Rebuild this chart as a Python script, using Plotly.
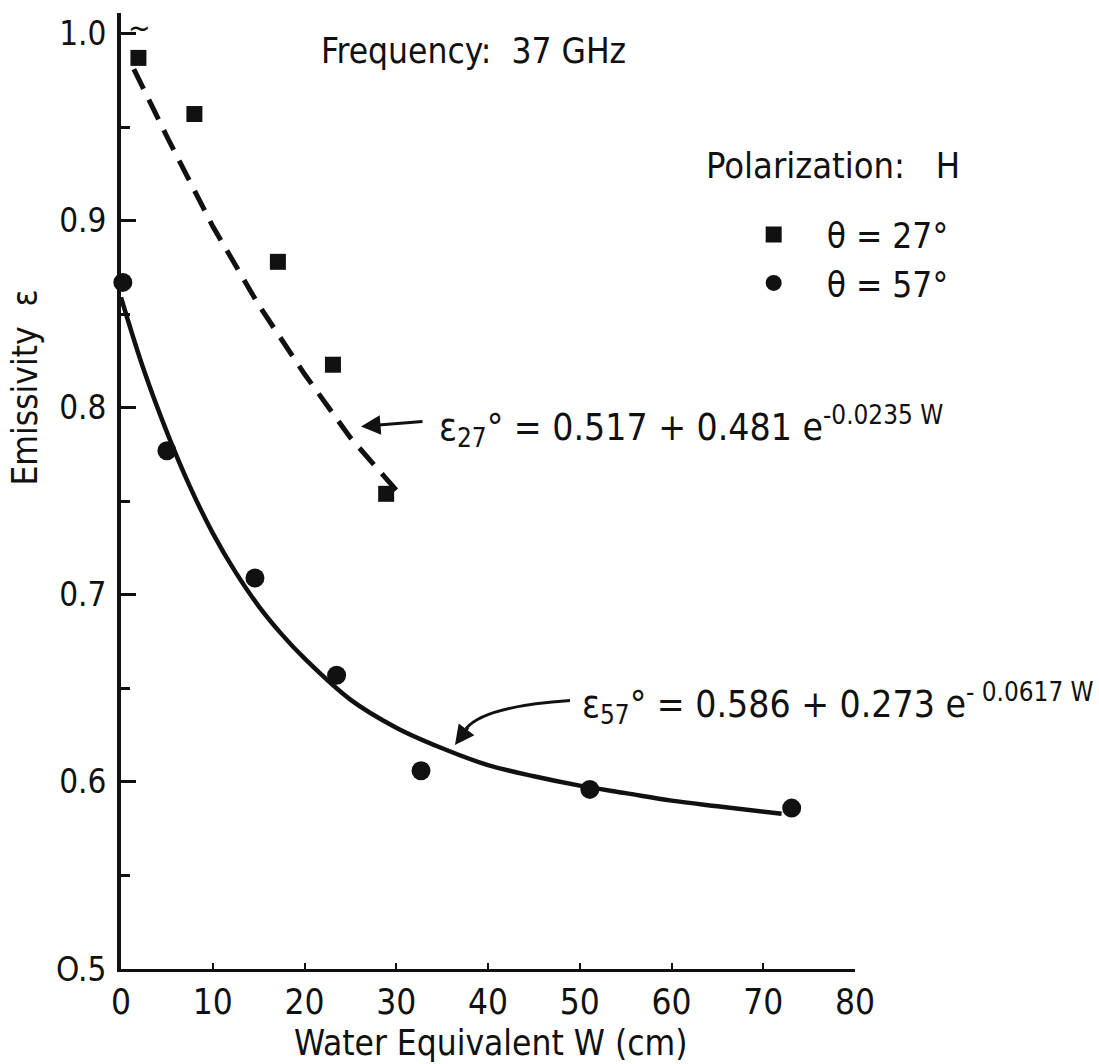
import plotly.graph_objects as go

# ---------------- data ----------------
w_27 = [1.9, 8.0, 17.1, 23.1, 28.9]
e_27 = [0.987, 0.957, 0.878, 0.823, 0.754]

w_57 = [0.2, 5.0, 14.6, 23.5, 32.7, 51.1, 73.1]
e_57 = [0.867, 0.777, 0.709, 0.657, 0.606, 0.596, 0.586]

# fitted curves
fit27_w = [1.4, 5, 10, 15, 20, 25, 30]
fit27_e = [0.981, 0.945, 0.897, 0.855, 0.818, 0.784, 0.756]

fit57_w = [0, 2.5, 5, 7.5, 10, 12.5, 15, 17.5, 20, 25, 30, 35, 40, 45, 50, 55, 60, 65, 72]
fit57_e = [0.859, 0.820, 0.787, 0.758, 0.733, 0.712, 0.694, 0.679, 0.666, 0.644,
           0.629, 0.618, 0.609, 0.603, 0.598, 0.594, 0.590, 0.587, 0.583]

x_ticks = [0, 10, 20, 30, 40, 50, 60, 70, 80]
y_ticks = [0.5, 0.6, 0.7, 0.8, 0.9, 1.0]
y_ticktext = ["O.5", "0.6", "0.7", "0.8", "0.9", "1.0"]

FONT = "DejaVu Sans Condensed, Liberation Sans Narrow, Roboto Condensed, DejaVu Sans, sans-serif"
INK = "#111111"

fig = go.Figure()

fig.add_trace(go.Scatter(x=fit27_w, y=fit27_e, mode="lines", showlegend=False,
                         line=dict(color=INK, width=5, dash="22px,12px"), hoverinfo="skip"))
fig.add_trace(go.Scatter(x=fit57_w, y=fit57_e, mode="lines", showlegend=False,
                         line=dict(color=INK, width=4.5, shape="spline"), hoverinfo="skip"))
fig.add_trace(go.Scatter(x=w_27, y=e_27, mode="markers", name="θ = 27°", cliponaxis=False,
                         marker=dict(symbol="square", size=16, color=INK)))
fig.add_trace(go.Scatter(x=w_57, y=e_57, mode="markers", name="θ = 57°", cliponaxis=False,
                         marker=dict(symbol="circle", size=19, color=INK)))

fig.update_layout(
    width=1099, height=1064,
    margin=dict(l=121, r=244, t=13, b=95),
    paper_bgcolor="white", plot_bgcolor="white",
    font=dict(family=FONT, size=32, color=INK),
    showlegend=True,
    legend=dict(x=0.817, y=0.799, xanchor="left", yanchor="top",
                font=dict(family=FONT, size=35, color=INK),
                bgcolor="rgba(0,0,0,0)", itemwidth=96, tracegroupgap=0),
)

fig.update_xaxes(range=[0, 80], tickvals=x_ticks, showgrid=False, zeroline=False,
                 showline=True, linecolor=INK, linewidth=3,
                 ticks="inside", ticklen=6, tickwidth=2, tickcolor=INK,
                 tickfont=dict(family=FONT, size=35, color=INK))
fig.update_yaxes(range=[0.5, 1.011], tickvals=y_ticks, ticktext=y_ticktext,
                 showgrid=False, zeroline=False,
                 showline=True, linecolor=INK, linewidth=4,
                 ticks="inside", ticklen=15, tickwidth=3, tickcolor=INK,
                 minor=dict(dtick=0.05, ticks="inside", ticklen=9, tickwidth=3, tickcolor=INK),
                 ticklabelstandoff=4,
                 tickfont=dict(family=FONT, size=33, color=INK))

ann = []
ann.append(dict(text="Water Equivalent W (cm)", xref="paper", yref="paper", x=0.504, y=-0.077,
                xanchor="center", yanchor="middle", showarrow=False, font=dict(size=35)))
ann.append(dict(text="Emissivity  ε", xref="paper", yref="paper", x=-0.131, y=0.608,
                xanchor="center", yanchor="middle", textangle=-90, showarrow=False, font=dict(size=35)))
ann.append(dict(text="Frequency:  37 GHz", xref="paper", yref="paper", x=0.270, y=0.960,
                xanchor="left", yanchor="middle", showarrow=False, font=dict(size=35)))
ann.append(dict(text="Polarization:   H", xref="paper", yref="paper", x=0.794, y=0.840,
                xanchor="left", yanchor="middle", showarrow=False, font=dict(size=36)))
ann.append(dict(text="~", xref="x", yref="paper", x=0.5, y=0.985, xanchor="left", yanchor="middle",
                showarrow=False, font=dict(size=30)))
# equations
ann.append(dict(text="ε<sub>27</sub>° = 0.517 + 0.481 e<sup>-0.0235 W</sup>", xref="x", yref="y",
                x=34.4, y=0.790, xanchor="left", yanchor="middle", showarrow=False, font=dict(size=37)))
ann.append(dict(text="ε<sub>57</sub>° = 0.586 + 0.273 e<sup>- 0.0617 W</sup>", xref="x", yref="y",
                x=50.0, y=0.642, xanchor="left", yanchor="middle", showarrow=False, font=dict(size=37)))
# arrows
ann.append(dict(text="", x=26.16, y=0.790, xref="x", yref="y", ax=63, ay=-5,
                showarrow=True, arrowhead=2, arrowsize=1.3, arrowwidth=3, arrowcolor=INK))
ann.append(dict(text="", x=36.4, y=0.6197, xref="x", yref="y", ax=14, ay=-19,
                showarrow=True, arrowhead=2, arrowsize=1.3, arrowwidth=3, arrowcolor=INK))
fig.update_layout(annotations=ann)

fig.add_shape(type="path", xref="x", yref="y",
              path="M 48.94,0.6435 Q 39.6,0.6405 37.6,0.6285",
              line=dict(color=INK, width=3))

fig.write_html("out.html")
